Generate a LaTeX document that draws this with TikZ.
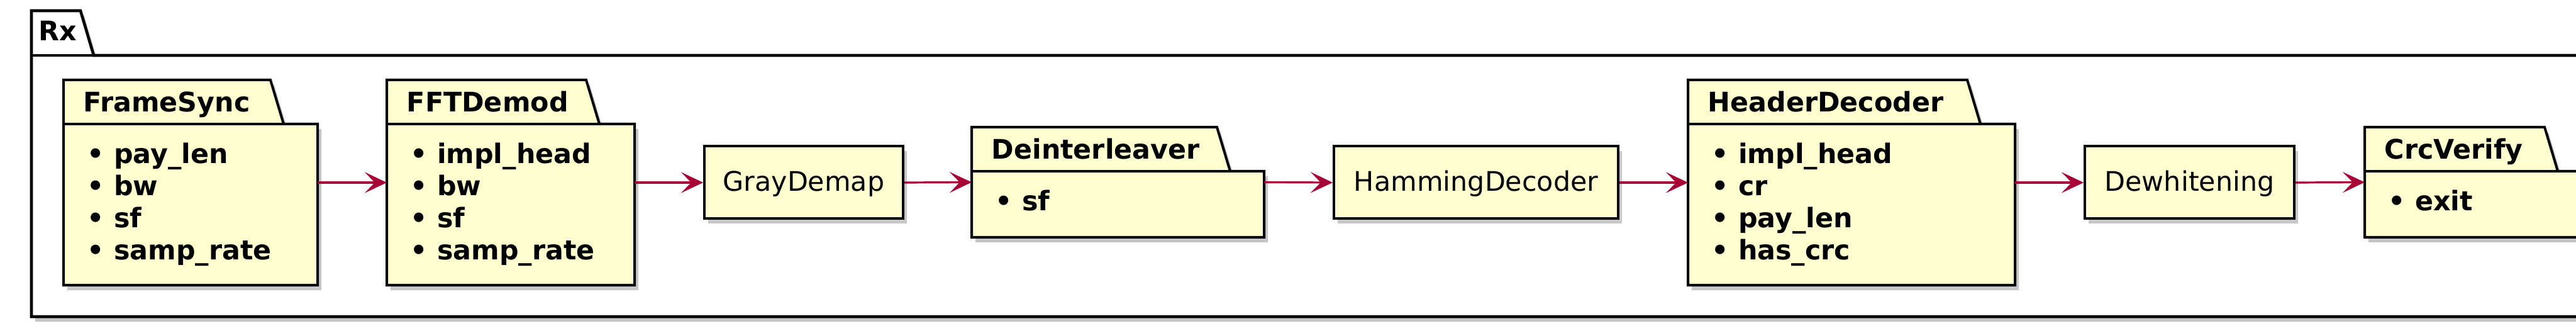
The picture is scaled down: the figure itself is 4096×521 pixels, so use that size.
\documentclass[tikz,border=0pt]{standalone}
\usepackage{fontspec}
\setmainfont{DejaVu Sans}
\usetikzlibrary{arrows.meta,shadows,fit}
\definecolor{pkgfill}{HTML}{FEFECE}
\definecolor{arrowred}{HTML}{A80036}
\tikzset{
  boxline/.style={draw=black, line width=1pt},
  shade box/.style={drop shadow={shadow xshift=1.5pt, shadow yshift=-2pt, fill=black!40, opacity=0.55}},
  pkgshape/.style={boxline, fill=pkgfill, shade box},
  titletext/.style={font=\fontsize{10.7}{12}\selectfont\bfseries, anchor=base west, inner sep=0},
  itemtext/.style={titletext},
  plainbox/.style={boxline, fill=pkgfill, shade box, font=\fontsize{10.7}{12}\selectfont,
    text height=10pt, text depth=3pt, inner sep=0, minimum height=28.75pt},
  flow/.style={draw=arrowred, line width=0.8pt, -{Stealth[length=8.75pt, width=8.25pt, inset=4pt]}},
  bound/.style={inner sep=0, outer sep=0}
}
\newcommand\pkgdraw[8]{%
  \path[pkgshape] (#2,#4) -- (#7,#4) -- ({#7+21},#5) -- (#3,#5) -- (#3,#6) -- (#2,#6) -- cycle;
  \draw[boxline] (#2,#5) -- ({#7+21},#5);
  \node[bound, fit={(#2,#4) (#3,#6)}] (#1) {};
  \node[titletext] (#1-title) at ({#2+31},{#4+51}) {#8};
}
\newcommand\pkgitems[4]{%
  \foreach \t [count=\i] in {#4} {
    \node[itemtext] (#1-item\i) at ({#2+37},{#3+63+50.7*(\i-1)}) {• \t};
  }
}
\begin{document}
\begin{tikzpicture}[x=0.25pt,y=-0.25pt]
\useasboundingbox (0,0) rectangle (4096,521);
\clip (0,0) rectangle (4096,521);
% outer Rx frame
\path[draw=black, line width=1.15pt, fill=white, shade box]
  (50,88) -- (50,17) -- (128,17) -- (149,88) -- (4140,88) -- (4140,503) -- (50,503) -- cycle;
\draw[line width=1.15pt] (50,88) -- (149,88);
\node[titletext] (rx-label) at (61,65) {Rx};
% packages
\pkgdraw{fs}{101}{505}{127}{197}{453}{430}{FrameSync}
\pkgitems{fs}{101}{197}{pay\_len,bw,sf,samp\_rate}
\pkgdraw{fft}{615}{1009}{127}{197}{453}{932}{FFTDemod}
\pkgitems{fft}{615}{197}{impl\_head,bw,sf,samp\_rate}
\pkgdraw{dei}{1545}{2010}{202}{272}{377}{1935}{Deinterleaver}
\pkgitems{dei}{1545}{272}{sf}
\pkgdraw{hdr}{2684}{3204}{127}{197}{453}{3128}{HeaderDecoder}
\pkgitems{hdr}{2684}{197}{impl\_head,cr,pay\_len,has\_crc}
\pkgdraw{crc}{3760}{4160}{202}{272}{377}{4046}{CrcVerify}
\pkgitems{crc}{3760}{272}{exit}
% plain boxes
\node[plainbox, minimum width=79pt] (gray) at (1278,290) {GrayDemap};
\node[plainbox, minimum width=113pt] (ham) at (2347,290) {HammingDecoder};
\node[plainbox, minimum width=83.25pt] (dew) at (3481.5,290) {Dewhitening};
% connectors
\draw[flow] (fs.east) -- (fft.west);
\draw[flow] (fft.east) -- (gray.west);
\draw[flow] (gray.east) -- (dei.west);
\draw[flow] (dei.east) -- (ham.west);
\draw[flow] (ham.east) -- (hdr.west);
\draw[flow] (hdr.east) -- (dew.west);
\draw[flow] (dew.east) -- (crc.west);
\end{tikzpicture}
\end{document}
